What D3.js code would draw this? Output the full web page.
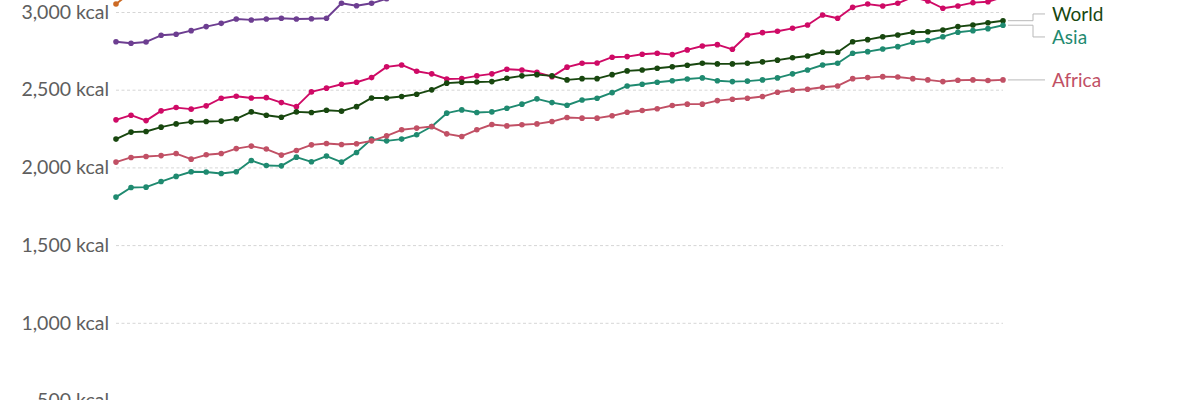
<!DOCTYPE html>
<html>
<head>
<meta charset="utf-8">
<script src="https://cdn.jsdelivr.net/npm/d3@7"></script>
<style>
  html, body { margin: 0; padding: 0; background: #fff; }
  svg { display: block; font-family: Lato, "Noto Sans", sans-serif; }
</style>
</head>
<body>
<svg id="chart" width="1200" height="400"></svg>
<script>
// ---- data ----
const years = d3.range(1961, 2021);
const yTicks = [500, 1000, 1500, 2000, 2500, 3000];
const seriesNames = ["North America", "Europe", "South America", "World", "Asia", "Africa"];
const seriesColors = ["#cc6a24", "#6D3E91", "#CF0A66", "#18470F", "#1f8a70", "#C15065"];

const northAmerica = [3051, 3128, 3140, 3168, 3175, 3204, 3229, 3241, 3262, 3283, 3279, 3290, 3301, 3289, 3312, 3340, 3352, 3371, 3385, 3398,
  3402, 3410, 3431, 3452, 3478, 3490, 3512, 3530, 3548, 3571, 3590, 3604, 3622, 3641, 3655, 3662, 3680, 3694, 3702, 3720,
  3731, 3740, 3749, 3761, 3768, 3760, 3752, 3748, 3731, 3725, 3730, 3741, 3752, 3760, 3771, 3778, 3782, 3790, 3795, 3801];
const europe = [2809, 2799, 2807, 2850, 2857, 2880, 2906, 2927, 2955, 2949, 2955, 2960, 2955, 2957, 2960, 3056, 3040, 3056, 3085, 3112,
  3128, 3150, 3166, 3181, 3195, 3204, 3212, 3231, 3248, 3255, 3261, 3270, 3268, 3274, 3282, 3291, 3295, 3302, 3311, 3318,
  3322, 3330, 3341, 3348, 3352, 3360, 3366, 3371, 3379, 3385, 3390, 3394, 3401, 3405, 3410, 3412, 3418, 3421, 3425, 3430];
const southAmerica = [2306, 2336, 2301, 2364, 2385, 2375, 2396, 2445, 2458, 2447, 2449, 2417, 2391, 2486, 2510, 2535, 2548, 2578, 2647, 2659,
  2619, 2602, 2569, 2571, 2589, 2602, 2632, 2627, 2612, 2584, 2645, 2670, 2672, 2709, 2713, 2728, 2735, 2726, 2756, 2781,
  2790, 2760, 2852, 2867, 2876, 2895, 2916, 2981, 2960, 3030, 3051, 3039, 3056, 3096, 3071, 3024, 3039, 3060, 3066, 3096];
const world = [2182, 2227, 2231, 2259, 2280, 2293, 2295, 2298, 2312, 2357, 2336, 2323, 2357, 2353, 2368, 2362, 2391, 2447, 2447, 2456,
  2471, 2499, 2542, 2548, 2550, 2552, 2574, 2589, 2597, 2589, 2563, 2571, 2571, 2597, 2621, 2627, 2638, 2648, 2657, 2670,
  2666, 2666, 2670, 2679, 2690, 2706, 2717, 2741, 2741, 2809, 2822, 2841, 2852, 2870, 2873, 2884, 2906, 2916, 2931, 2944];
const asia = [1809, 1871, 1873, 1909, 1942, 1972, 1970, 1961, 1972, 2044, 2012, 2010, 2066, 2036, 2073, 2034, 2096, 2182, 2171, 2182,
  2210, 2263, 2349, 2370, 2353, 2357, 2381, 2407, 2441, 2417, 2400, 2434, 2445, 2481, 2524, 2535, 2548, 2558, 2569, 2576,
  2558, 2552, 2555, 2563, 2576, 2602, 2627, 2659, 2670, 2735, 2745, 2762, 2777, 2805, 2816, 2841, 2870, 2880, 2893, 2915];
const africa = [2034, 2064, 2070, 2076, 2089, 2053, 2081, 2089, 2121, 2137, 2118, 2079, 2109, 2145, 2154, 2147, 2152, 2171, 2203, 2242,
  2253, 2263, 2216, 2199, 2242, 2276, 2267, 2274, 2280, 2295, 2321, 2317, 2317, 2332, 2355, 2366, 2377, 2398, 2407, 2407,
  2430, 2439, 2445, 2456, 2484, 2497, 2503, 2516, 2524, 2571, 2578, 2584, 2582, 2571, 2563, 2552, 2561, 2563, 2559, 2563];
const seriesValues = [northAmerica, europe, southAmerica, world, asia, africa];
const labelled = ["World", "Asia", "Africa"];

// ---- chart ----
const svg = d3.select("#chart");
const x = d3.scaleLinear().domain([1961, 2020]).range([116, 1003]);
const y = d3.scaleLinear().domain([500, 3000]).range([400.5, 12]);
const fmt = d3.format(",");

// gridlines + tick labels
const yAxis = d3.axisLeft(y).tickValues(yTicks)
  .tickSize(-(x.range()[1] - x.range()[0]))
  .tickPadding(7)
  .tickFormat(d => fmt(d) + " kcal");
const ga = svg.append("g").attr("transform", `translate(${x.range()[0]},0)`).call(yAxis);
ga.select(".domain").remove();
ga.selectAll(".tick line").attr("stroke", "#d6d6d6").attr("stroke-dasharray", "3,2.5").attr("stroke-width", 1);
ga.selectAll(".tick text").attr("fill", "#5e5e5e").style("font-size", "19.5px").style("font-family", "Lato, sans-serif");

// lines
const line = d3.line().x((d, i) => x(years[i])).y(d => y(d));
seriesValues.forEach((vals, k) => {
  const g = svg.append("g");
  g.append("path").datum(vals).attr("d", line)
    .attr("fill", "none").attr("stroke", seriesColors[k]).attr("stroke-width", 1.9)
    .attr("stroke-linejoin", "round");
  g.selectAll("circle").data(vals).join("circle")
    .attr("cx", (d, i) => x(years[i])).attr("cy", d => y(d)).attr("r", 2.8)
    .attr("fill", seriesColors[k]);
});

// end labels with leader lines
const lastX = x(years[years.length - 1]);
const endY = name => y(seriesValues[seriesNames.indexOf(name)][years.length - 1]);
const mid = (endY("World") + endY("Asia")) / 2;
const labelY = { World: mid - 9, Asia: mid + 14, Africa: endY("Africa") };
labelled.forEach(name => {
  const ey = endY(name), ly = labelY[name];
  const k = seriesNames.indexOf(name);
  svg.append("path")
    .attr("d", `M${lastX + 5},${ey}H${lastX + 30}V${ly}H${lastX + 42}`)
    .attr("fill", "none").attr("stroke", "#b8b8b8").attr("stroke-width", 1);
  svg.append("text").attr("x", lastX + 49).attr("y", ly).attr("dy", "0.35em")
    .attr("fill", seriesColors[k]).style("font-size", "19px").text(name);
});
</script>
</body>
</html>
